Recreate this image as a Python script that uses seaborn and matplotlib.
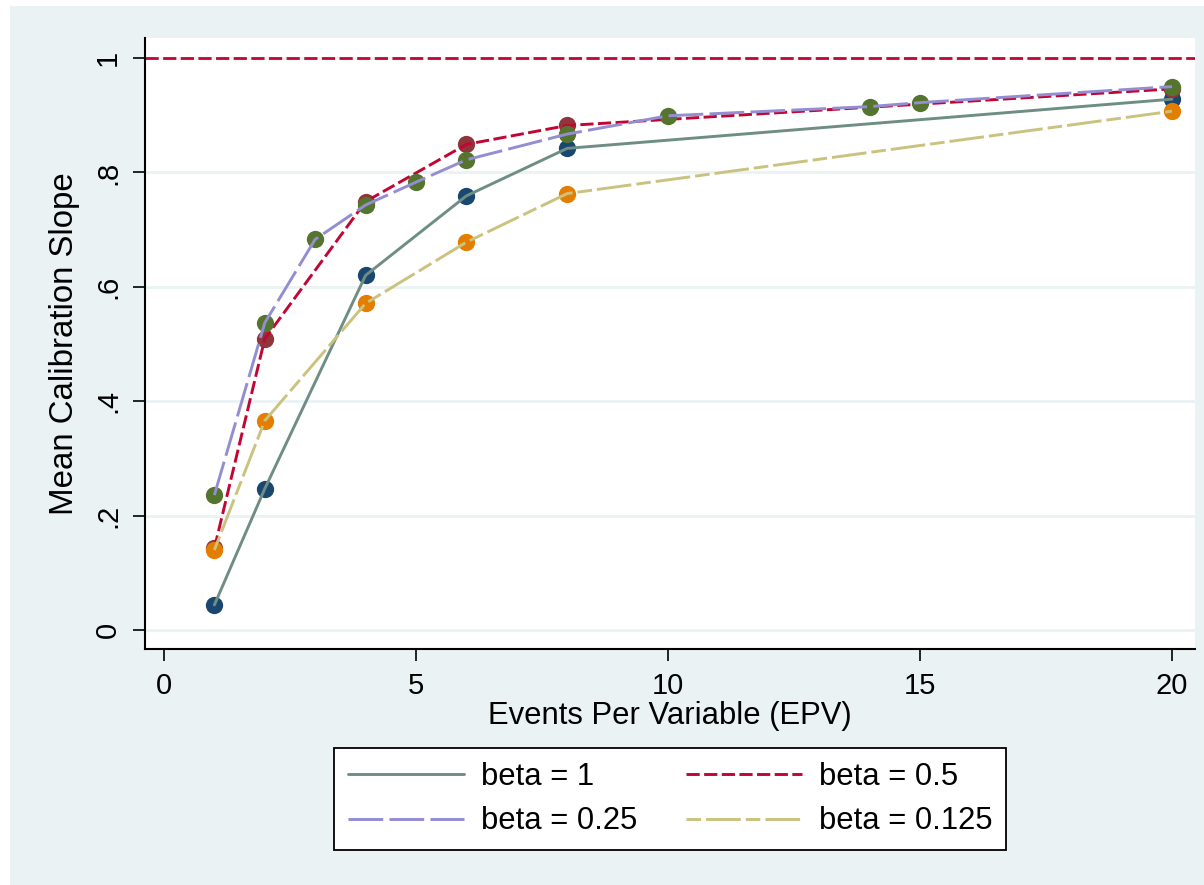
import matplotlib
matplotlib.use('Agg')
import matplotlib.pyplot as plt
import seaborn as sns
from matplotlib.patches import Rectangle

# data
epv_b1 = [1, 2, 4, 6, 8, 20]
slope_b1 = [0.044, 0.247, 0.620, 0.759, 0.842, 0.928]
epv_b05 = [1, 2, 4, 6, 8, 20]
slope_b05 = [0.143, 0.509, 0.749, 0.849, 0.882, 0.946]
epv_b025 = [1, 2, 3, 4, 5, 6, 8, 10, 14, 15, 20]
slope_b025 = [0.236, 0.537, 0.683, 0.743, 0.783, 0.822, 0.867, 0.899, 0.915, 0.922, 0.950]
epv_b0125 = [1, 2, 4, 6, 8, 20]
slope_b0125 = [0.140, 0.366, 0.571, 0.678, 0.763, 0.907]

labels = ['beta = 1', 'beta = 0.5', 'beta = 0.25', 'beta = 0.125']
x_ticks = [0, 5, 10, 15, 20]
y_ticks = [0, 0.2, 0.4, 0.6, 0.8, 1]
y_ticklabels = ['0', '.2', '.4', '.6', '.8', '1']

line_colors = ['#6e8e84', '#c10534', '#938dd2', '#cac27e']
marker_colors = ['#1a476f', '#90353b', '#55752f', '#e37e00']
patterns = ['-', (0, (9.5, 3.2)), (0, (25, 4.5)), (0, (10.5, 3.6, 25, 3.6))]

sns.set_style('white')
plt.rcParams['font.family'] = ['Liberation Sans', 'DejaVu Sans']
plt.rcParams['lines.scale_dashes'] = False
for k in ['text.color', 'axes.labelcolor', 'xtick.color', 'ytick.color']:
    plt.rcParams[k] = 'black'

fig = plt.figure(figsize=(12.04, 8.85), dpi=100)
fig.patch.set_facecolor('white')
fig.patches.append(Rectangle((0.0083, 0), 1, 0.9932, transform=fig.transFigure,
                             facecolor='#eaf2f3', edgecolor='none', zorder=-10))
ax = fig.add_axes([0.1204, 0.2667, 0.8721, 0.6904])
ax.set_facecolor('white')

series = [(epv_b1, slope_b1), (epv_b05, slope_b05), (epv_b025, slope_b025), (epv_b0125, slope_b0125)]
handles = []
for i, (xs, ys) in enumerate(series):
    sns.scatterplot(x=xs, y=ys, ax=ax, color=marker_colors[i], s=155, linewidth=0, zorder=3 + 2 * i)
    sns.lineplot(x=xs, y=ys, ax=ax, color=line_colors[i], lw=2.1, linestyle=patterns[i],
                 sort=False, errorbar=None, label=labels[i], zorder=4 + 2 * i)
    handles.append(ax.lines[-1])

# reference line at 1
ax.axhline(1, color='#c10534', lw=2.0, linestyle=(0, (9.5, 3.2)), zorder=2)

ax.set_xlim(-0.377, 20.456)
ax.set_ylim(-0.033, 1.035)
ax.set_xticks(x_ticks)
ax.set_yticks(y_ticks)
ax.set_yticklabels(y_ticklabels, rotation=90, va='center')
ax.grid(axis='y', color='#eaf2f3', lw=2)
ax.grid(axis='x', visible=False)
for s in ['top', 'right']:
    ax.spines[s].set_visible(False)
for s in ['left', 'bottom']:
    ax.spines[s].set_color('black')
    ax.spines[s].set_linewidth(1.5)
ax.tick_params(axis='both', direction='out', length=8.6, width=1.2, color='black',
               labelsize=21, pad=8, left=True, bottom=True)
ax.set_xlabel('Events Per Variable (EPV)', fontsize=22.3, labelpad=1)
ax.set_ylabel('Mean Calibration Slope', fontsize=23.8, labelpad=10)

order = [0, 2, 1, 3]
leg = ax.legend([handles[k] for k in order], [labels[k] for k in order], ncol=2,
                loc='center', bbox_to_anchor=(0.5565, 0.0972), bbox_transform=fig.transFigure,
                fontsize=22.3, handlelength=3.75, handletextpad=0.55, columnspacing=1.58,
                labelspacing=0.48, borderpad=0.45, fancybox=False, framealpha=1,
                edgecolor='black')
leg.get_frame().set_linewidth(1.3)

fig.savefig('out.png', dpi=100, facecolor=fig.get_facecolor())
